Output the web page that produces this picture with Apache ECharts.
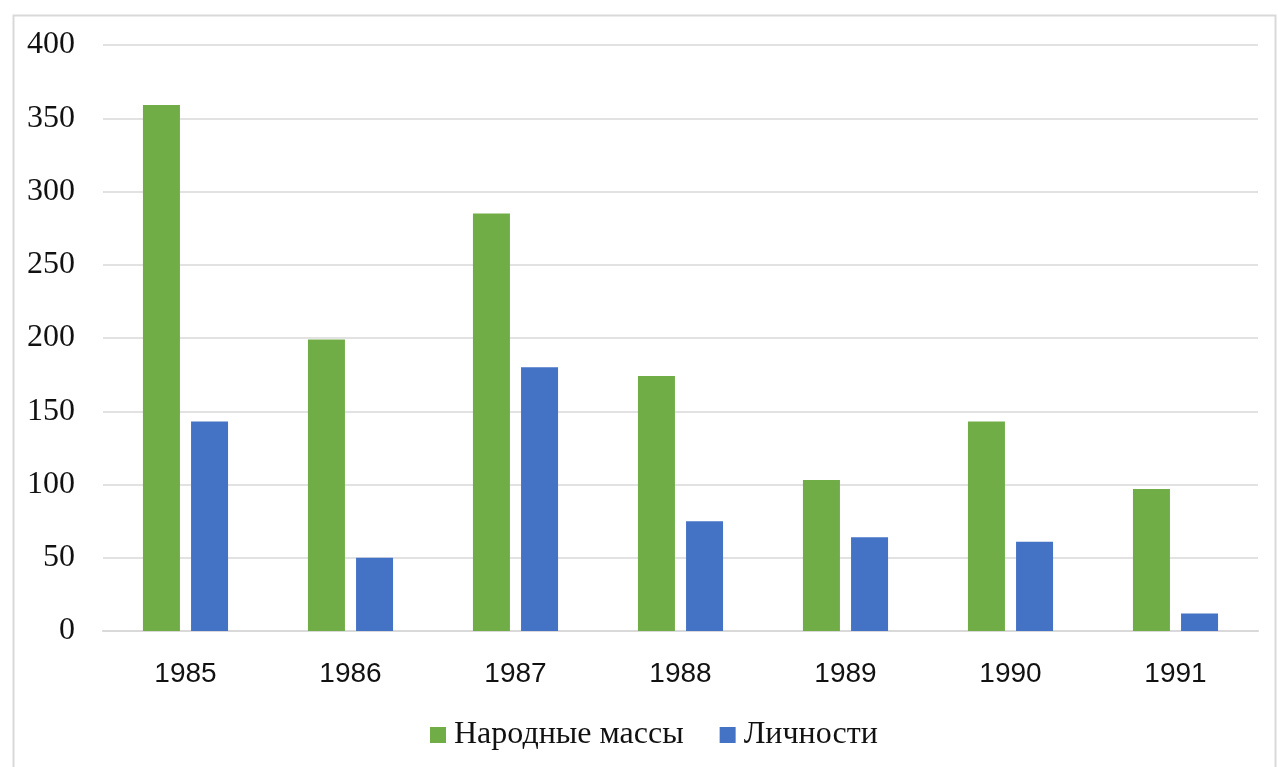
<!DOCTYPE html>
<html><head><meta charset="utf-8">
<script src="https://cdn.jsdelivr.net/npm/echarts@6/dist/echarts.min.js"></script>
<style>html,body{margin:0;padding:0;background:#fff}#c{width:1278px;height:767px}</style>
</head><body><div id="c"></div>
<script>
const categories = ['1985','1986','1987','1988','1989','1990','1991'];
const masses = [359, 199, 285, 174, 103, 143, 97];
const persons = [143, 50, 180, 75, 64, 61, 12];
const seriesNames = ['Народные массы', 'Личности'];

const chart = echarts.init(document.getElementById('c'));
chart.setOption({
  animation: false,
  graphic: [{
    type: 'rect', left: 11, top: 13,
    shape: { width: 1262, height: 780 },
    style: { fill: 'none', stroke: '#d9d9d9', lineWidth: 2 },
    silent: true
  }],
  grid: { left: 103, right: 20, top: 45, bottom: 136 },
  legend: {
    bottom: 11, left: 425,
    itemWidth: 16, itemHeight: 16, itemGap: 36,
    icon: 'rect',
    textStyle: { fontFamily: 'Liberation Serif', fontSize: 32, color: '#111', padding: [0, 0, 0, 3] },
    data: seriesNames
  },
  xAxis: {
    type: 'category', data: categories,
    axisLine: { lineStyle: { color: '#d9d9d9', width: 2 } },
    axisTick: { show: false },
    axisLabel: { fontFamily: 'Liberation Sans', fontSize: 28, color: '#111', margin: 29 }
  },
  yAxis: {
    type: 'value', min: 0, max: 400, interval: 50,
    axisLine: { show: false }, axisTick: { show: false },
    splitLine: { lineStyle: { color: '#d9d9d9', width: 1.5 } },
    axisLabel: { fontFamily: 'Liberation Serif', fontSize: 32, color: '#111', margin: 28 }
  },
  series: [
    { name: seriesNames[0], type: 'bar', data: masses, itemStyle: { color: '#70ad47' }, barWidth: 37, barGap: '30%' },
    { name: seriesNames[1], type: 'bar', data: persons, itemStyle: { color: '#4472c4' }, barWidth: 37 }
  ]
});
</script></body></html>
